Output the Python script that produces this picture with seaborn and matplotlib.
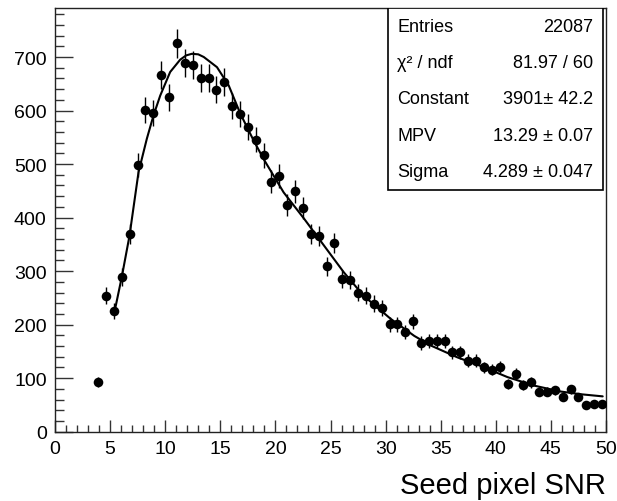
import numpy as np
import pandas as pd
import seaborn as sns
import matplotlib.pyplot as plt
from matplotlib.ticker import MultipleLocator

# histogram bin centres (70 bins over 0..50) and counts
snr = [3.93, 4.64, 5.36, 6.07, 6.79, 7.50, 8.21, 8.93, 9.64, 10.36,
       11.07, 11.79, 12.50, 13.21, 13.93, 14.64, 15.36, 16.07, 16.79, 17.50,
       18.21, 18.93, 19.64, 20.36, 21.07, 21.79, 22.50, 23.21, 23.93, 24.64,
       25.36, 26.07, 26.79, 27.50, 28.21, 28.93, 29.64, 30.36, 31.07, 31.79,
       32.50, 33.21, 33.93, 34.64, 35.36, 36.07, 36.79, 37.50, 38.21, 38.93,
       39.64, 40.36, 41.07, 41.79, 42.50, 43.21, 43.93, 44.64, 45.36, 46.07,
       46.79, 47.50, 48.21, 48.93, 49.64]
counts = [93, 254, 225, 289, 369, 498, 601, 596, 666, 625,
          726, 689, 685, 661, 661, 639, 653, 609, 594, 569,
          545, 516, 467, 478, 424, 449, 418, 369, 366, 309,
          352, 285, 284, 260, 254, 239, 231, 201, 201, 186,
          206, 166, 169, 170, 170, 148, 148, 133, 133, 120,
          116, 121, 89, 108, 88, 92, 75, 75, 77, 65,
          79, 65, 50, 52, 52]

# Landau fit curve
fit_x = [5.39, 6.06, 6.76, 7.58, 8.33, 8.94, 9.55, 10.45, 11.36, 11.9,
         12.42, 13.0, 13.5, 14.7, 15.76, 16.8, 18.0, 18.94, 20.75, 22.6,
         24.4, 26.2, 28.0, 30.45, 32.6, 34.1, 36.5, 38.6, 41.06, 43.5,
         45.9, 47.7, 49.7]
fit_y = [223, 289, 366, 485, 547, 591, 628, 672, 695, 703,
         706, 705, 700, 681, 647, 595, 545, 509, 447, 398,
         348, 298, 254, 211, 179, 161, 139, 123, 102, 86,
         75, 70, 66]

stat_names = ["Entries", "χ² / ndf", "Constant", "MPV", "Sigma"]
stat_values = ["22087", "81.97 / 60", "3901± 42.2", "13.29 ± 0.07", "4.289 ± 0.047"]

sns.set_style("white")
plt.rcParams['font.family'] = ['Liberation Sans', 'DejaVu Sans']
plt.rcParams['text.color'] = 'black'
plt.rcParams['xtick.color'] = 'black'
plt.rcParams['ytick.color'] = 'black'
plt.rcParams['axes.labelcolor'] = 'black'

df = pd.DataFrame({"snr": snr, "counts": counts})
df["err"] = np.sqrt(df["counts"])
fit = pd.DataFrame({"x": fit_x, "y": fit_y})

fig = plt.figure(figsize=(6.17, 5.02), dpi=100)
ax = fig.add_axes([55 / 617, (502 - 432.7) / 502, 551 / 617, 423.4 / 502])

ax.errorbar(df["snr"], df["counts"], yerr=df["err"], fmt="none",
            ecolor="black", elinewidth=1.0, zorder=2)
sns.scatterplot(data=df, x="snr", y="counts", ax=ax, color="black",
                s=48, edgecolor="black", linewidth=0, zorder=3)
sns.lineplot(data=fit, x="x", y="y", ax=ax, color="black",
             linewidth=1.5, sort=False, zorder=4)

ax.set_xlim(0, 50)
ax.set_ylim(0, 791)
ax.xaxis.set_major_locator(MultipleLocator(5))
ax.xaxis.set_minor_locator(MultipleLocator(1))
ax.yaxis.set_major_locator(MultipleLocator(100))
ax.yaxis.set_minor_locator(MultipleLocator(20))
ax.tick_params(axis="x", which="major", direction="in", length=9, width=1,
               labelsize=14, pad=6, bottom=True, top=False, color="#333333")
ax.tick_params(axis="x", which="minor", direction="in", length=4.8, width=1,
               bottom=True, top=False, color="#333333")
ax.tick_params(axis="y", which="major", direction="in", length=13, width=1,
               labelsize=14, pad=6, left=True, right=False, color="#333333")
ax.tick_params(axis="y", which="minor", direction="in", length=6.5, width=1,
               left=True, right=False, color="#333333")
for sp in ax.spines.values():
    sp.set_color("#222222")
    sp.set_linewidth(1.0)

ax.set_ylabel("")
ax.set_xlabel("Seed pixel SNR", fontsize=21, loc="right", labelpad=10)

# stats box
box_l, box_r, box_b = 0.604, 0.995, 0.5716
ax.add_patch(plt.Rectangle((box_l, box_b), box_r - box_l, 1 - box_b,
                           transform=ax.transAxes, facecolor="white",
                           edgecolor="black", linewidth=1.2, zorder=5))
row_h = (1 - box_b) / len(stat_names)
for i, (name, val) in enumerate(zip(stat_names, stat_values)):
    yy = 1 - row_h * (i + 0.5)
    ax.text(0.621, yy, name, transform=ax.transAxes, fontsize=13,
            va="center", ha="left", zorder=6)
    ax.text(0.977, yy, val, transform=ax.transAxes, fontsize=13,
            va="center", ha="right", zorder=6)

fig.savefig("out.png", dpi=100)
